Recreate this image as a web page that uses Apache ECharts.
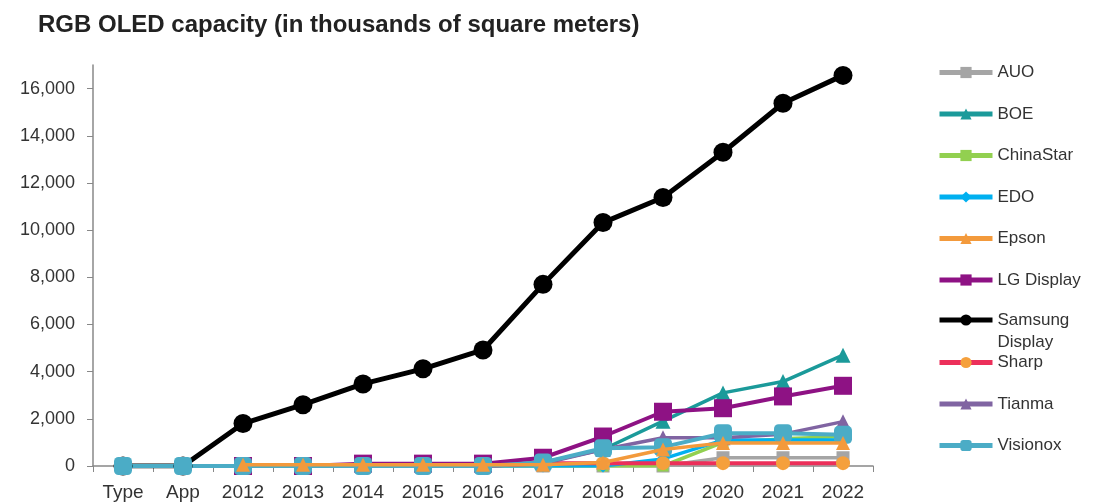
<!DOCTYPE html>
<html>
<head>
<meta charset="utf-8">
<script src="https://cdn.jsdelivr.net/npm/echarts@6/dist/echarts.min.js"></script>
<style>
  html, body { margin: 0; padding: 0; background: #fff; }
  #myCanvas { width: 1097px; height: 504px; }
</style>
</head>
<body>
<div id="myCanvas"></div>
<script>
// categories on the x axis
var categories = ['Type', 'App', '2012', '2013', '2014', '2015', '2016', '2017', '2018', '2019', '2020', '2021', '2022'];

// capacity, thousands of square meters (null = no point drawn)
var auo       = [null, null, 0, 0, 0, 0, 0, 0, 0, 0, 350, 350, 350];
var boe       = [null, null, 0, 0, 50, 50, 50, 150, 700, 1900, 3100, 3580, 4700];
var chinaStar = [null, null, 0, 0, 0, 0, 0, 0, 0, 0, 1000, 1150, 1250];
var edo       = [null, null, 0, 0, 0, 0, 0, 0, 0, 300, 1100, 1100, 1100];
var epson     = [null, null, 50, 50, 50, 50, 50, 50, 150, 700, 980, 980, 980];
var lgDisplay = [null, null, 0, 0, 100, 100, 100, 350, 1250, 2300, 2450, 2950, 3400];
var samsung   = [0, 0, 1800, 2600, 3480, 4120, 4920, 7700, 10320, 11380, 13300, 15380, 16560];
var sharp     = [null, null, 0, 0, 0, 0, 0, 120, 120, 120, 120, 120, 120];
var tianma    = [null, null, 0, 0, 0, 0, 0, 100, 700, 1200, 1200, 1350, 1880];
var visionox  = [0, 0, 0, 0, 0, 0, 0, 150, 750, 800, 1390, 1390, 1320];

var yMax = 17000;
var yStep = 2000;

var myChart = echarts.init(document.getElementById('myCanvas'));

var mk = function (name, data, color, symbol, size, width, z, markerColor) {
    return {
        name: name,
        type: 'line',
        data: data,
        z: z || 2,
        symbol: symbol,
        symbolSize: size,
        showAllSymbol: true,
        color: color,
        lineStyle: { width: width, color: color },
        itemStyle: { color: markerColor || color },
        emphasis: { disabled: true },
        animation: false
    };
};

var fontFam = 'Liberation Sans, Arial, sans-serif';
var legendText = { fontFamily: fontFam, fontSize: 17, color: '#333' };
var legendBase = {
    orient: 'vertical',
    left: 937,
    padding: 0,
    itemWidth: 53,
    itemHeight: 14,
    itemGap: 24.5,
    lineStyle: { width: 5 },
    textStyle: legendText
};

var option = {
    title: {
        text: 'RGB OLED capacity (in thousands of square meters)',
        left: 33,
        top: 8,
        textStyle: { fontFamily: fontFam, fontSize: 24, fontWeight: 'bold', color: '#222' }
    },
    legend: [
        Object.assign({}, legendBase, {
            top: 64,
            data: ['AUO', 'BOE', 'ChinaStar', 'EDO', 'Epson', 'LG Display']
        }),
        Object.assign({}, legendBase, {
            top: 287,
            textStyle: Object.assign({}, legendText, { lineHeight: 22 }),
            formatter: function () { return '\nSamsung\nDisplay'; },
            data: ['Samsung Display']
        }),
        Object.assign({}, legendBase, {
            top: 354,
            data: ['Sharp', 'Tianma', 'Visionox']
        })
    ],
    grid: { left: 93, right: 224, top: 65, bottom: 38 },
    xAxis: {
        type: 'category',
        data: categories,
        boundaryGap: true,
        axisLine: { lineStyle: { color: '#888', width: 1.5 } },
        axisTick: { show: true, length: 6, lineStyle: { color: '#888' } },
        axisLabel: { fontFamily: fontFam, fontSize: 19, color: '#333', margin: 17, interval: 0 }
    },
    yAxis: {
        type: 'value',
        min: 0,
        max: yMax,
        interval: yStep,
        splitLine: { show: false },
        axisLine: { show: true, lineStyle: { color: '#888', width: 1.5 } },
        axisTick: { show: true, length: 6, lineStyle: { color: '#888' } },
        axisLabel: {
            fontFamily: fontFam,
            fontSize: 18,
            color: '#333',
            margin: 18,
            showMaxLabel: false,
            formatter: function (v) { return v > yMax - 1 ? '' : v.toLocaleString('en-US'); }
        }
    },
    series: [
        mk('AUO', auo, '#a5a5a5', 'rect', 13, 3.5),
        mk('BOE', boe, '#1b9a9a', 'triangle', 15, 3.5),
        mk('ChinaStar', chinaStar, '#92d050', 'rect', 11, 3.5),
        mk('EDO', edo, '#00b0f0', 'diamond', 13, 3.5),
        mk('Epson', epson, '#f39a3c', 'triangle', 14, 3.5, 3),
        mk('LG Display', lgDisplay, '#8e1284', 'rect', 18, 4),
        mk('Samsung Display', samsung, '#000000', 'circle', 19, 5),
        mk('Sharp', sharp, '#ec2f5a', 'circle', 14, 4, 2, '#f5a03c'),
        mk('Tianma', tianma, '#8064a2', 'triangle', 15, 3.5),
        mk('Visionox', visionox, '#4bacc6', 'roundRect', 18, 4)
    ]
};

myChart.setOption(option);
</script>
</body>
</html>
